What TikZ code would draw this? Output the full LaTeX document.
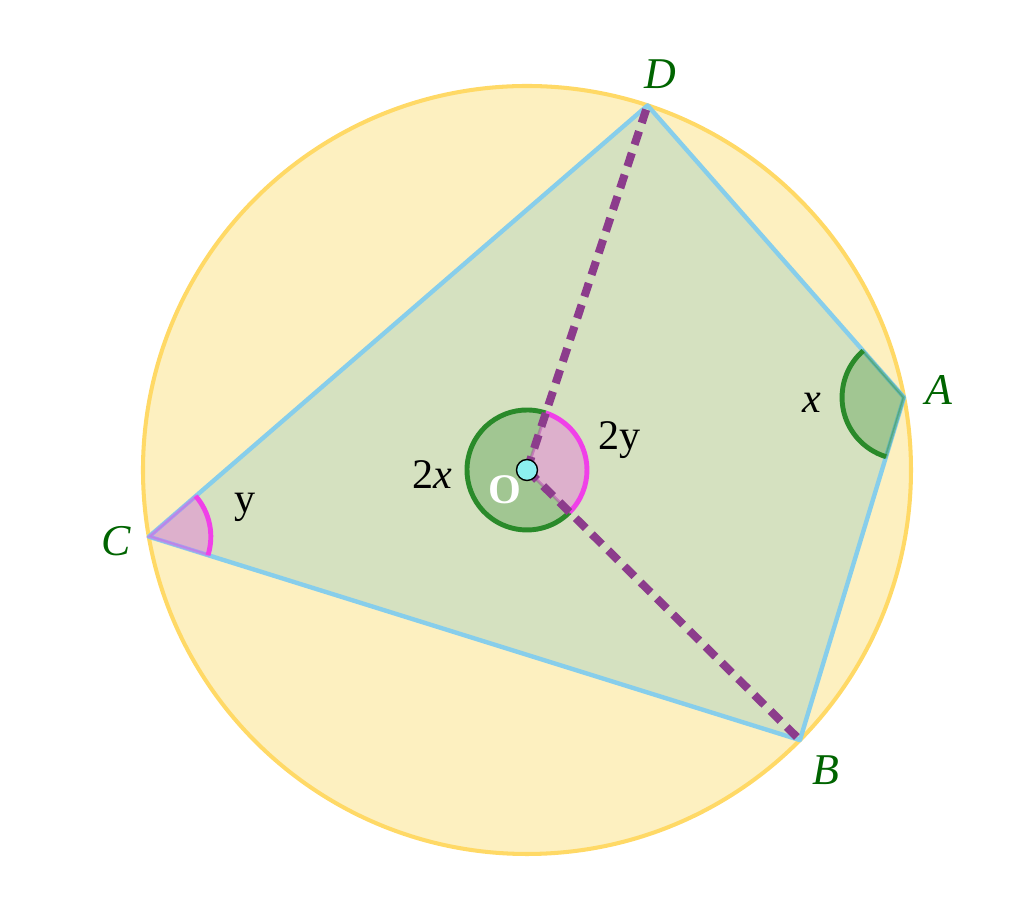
\documentclass[tikz,border=0pt]{standalone}
\usepackage{fontspec}
\setmainfont{Liberation Serif}
\definecolor{disque}{HTML}{FDF0C0}
\definecolor{bord}{HTML}{FFD966}
\definecolor{fondquad}{HTML}{D5E1C0}
\definecolor{cote}{HTML}{87CEEB}
\definecolor{vert}{HTML}{2A8A2A}
\definecolor{rose}{HTML}{F040E8}
\definecolor{pointille}{HTML}{8C3C8C}
\definecolor{centre}{HTML}{8CF0F0}
\definecolor{vertfonce}{HTML}{006400}
\newcommand{\rayon}{7.68}
\newcommand{\secteur}[5]{%
  \filldraw[fill=#5, draw=#5, fill opacity=0.3, draw opacity=0.35, line width=1.6pt] (#1) -- ++(#2:#4) arc[start angle=#2, end angle=#3, radius=#4] -- cycle;
  \draw[#5, line width=2.8pt] (#1) ++(#2:#4) arc[start angle=#2, end angle=#3, radius=#4]}
\tikzset{
  nomsommet/.style={text=vertfonce, font=\fontsize{25}{29}\selectfont\itshape},
  etiquette/.style={font=\fontsize{24}{28}\selectfont},
  rayonpointille/.style={pointille, line width=4.6pt, dash pattern=on 8pt off 5pt}
}
\begin{document}
\begin{tikzpicture}
    \useasboundingbox (-10.54,-8.88) rectangle (9.94,9.40);
    \coordinate (O) at (0,0);
    \coordinate (D) at (71.7:\rayon);
    \coordinate (A) at (10.9:\rayon);
    \coordinate (B) at (-44.7:\rayon);
    \coordinate (C) at (190:\rayon);

    \filldraw[fill=disque, draw=bord, line width=2.3pt] (O) circle (\rayon);
    \filldraw[fill=fondquad, draw=cote, line width=2.5pt, line join=round] (D) -- (A) -- (B) -- (C) -- cycle;

    \secteur{A}{131.3}{253.1}{1.24}{vert};
    \secteur{C}{-17.35}{40.85}{1.24}{rose};
    \secteur{O}{71.7}{315.3}{1.2}{vert};
    \secteur{O}{-44.7}{71.7}{1.2}{rose};

    \draw[rayonpointille] (O) -- (D);
    \draw[rayonpointille] (O) -- (B);
    \filldraw[fill=centre, draw=black, line width=0.8pt] (O) circle (0.21);

    \node[nomsommet] (nD) at (2.66, 7.92) {D};
    \node[nomsommet] (nA) at (8.24, 1.60) {A};
    \node[nomsommet] (nB) at (5.98, -6.00) {B};
    \node[nomsommet] (nC) at (-8.22, -1.42) {C};

    \node[etiquette] (angA) at (5.70, 1.34) {\textit{x}};
    \node[etiquette] (angOx) at (-1.90, -0.10) {2\textit{x}};
    \node[etiquette] (angOy) at (1.86, 0.60) {2y};
    \node[etiquette] (angC) at (-5.64, -0.74) {y};
    \node[etiquette, text=white, font=\fontsize{24}{28}\selectfont\bfseries] (nO) at (-0.44, -0.40) {O};
\end{tikzpicture}
\end{document}
